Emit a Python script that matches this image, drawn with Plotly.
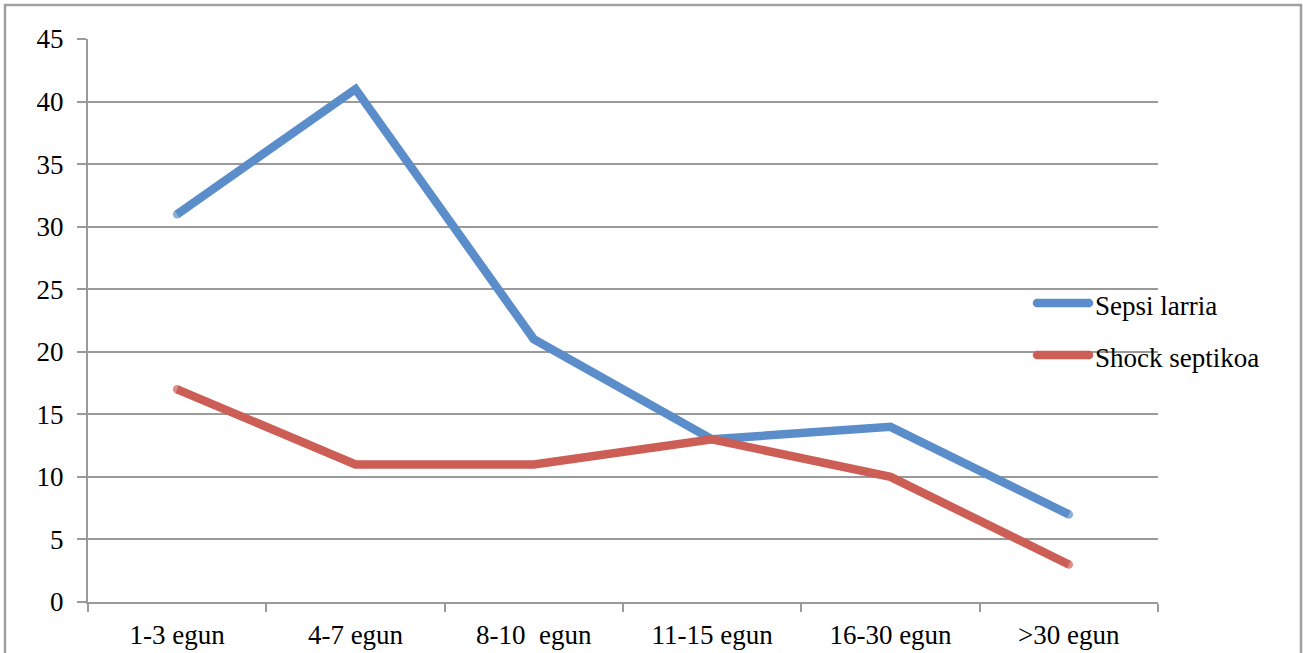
import plotly.graph_objects as go

categories = ["1-3 egun", "4-7 egun", "8-10  egun", "11-15 egun", "16-30 egun", ">30 egun"]
sepsi_larria = [31, 41, 21, 13, 14, 7]
shock_septikoa = [17, 11, 11, 13, 10, 3]
series_names = ["Sepsi larria", "Shock septikoa"]
y_ticks = [0, 5, 10, 15, 20, 25, 30, 35, 40, 45]

BLUE = "#5A8DC9"
RED = "#CC5E56"
GRID = "#9A9A9A"
FONT = "Liberation Serif, Times New Roman, serif"
FSIZE = 27
LW = 8.5

# plot area geometry in pixels (used to place the hand-drawn legend)
L, R, T, B = 88, 145, 39, 51
PW, PH = 1303 - L - R, 653 - T - B


def px_x(x):
    return (x - L) / PW


def px_y(y):
    return (653 - B - y) / PH


fig = go.Figure()
for name, vals, color in [(series_names[0], sepsi_larria, BLUE),
                          (series_names[1], shock_septikoa, RED)]:
    end_sizes = [LW] + [0] * (len(vals) - 2) + [LW]
    fig.add_trace(go.Scatter(x=categories, y=vals, mode="lines+markers", name=name,
                             line=dict(color=color, width=LW),
                             marker=dict(color=color, size=end_sizes, line=dict(width=0)),
                             showlegend=False, hoverinfo="skip"))

# outer frame around the chart area
fig.add_shape(type="rect", xref="paper", yref="paper",
              x0=px_x(5), x1=px_x(1301), y0=px_y(665), y1=px_y(5),
              line=dict(color="#A0A0A0", width=2.5), layer="below")

# legend drawn as line samples with labels
legend_rows = [(series_names[0], BLUE, 303, 306), (series_names[1], RED, 355, 358)]
rx, ry = (LW / 2) / PW, (LW / 2) / PH
for name, color, ly, ty in legend_rows:
    x0, x1 = px_x(1037), px_x(1089)
    fig.add_shape(type="line", xref="paper", yref="paper",
                  x0=x0, x1=x1, y0=px_y(ly), y1=px_y(ly),
                  line=dict(color=color, width=LW))
    for cx in (x0, x1):
        fig.add_shape(type="circle", xref="paper", yref="paper",
                      x0=cx - rx, x1=cx + rx, y0=px_y(ly) - ry, y1=px_y(ly) + ry,
                      fillcolor=color, line=dict(width=0))
    fig.add_annotation(xref="paper", yref="paper", x=px_x(1093), y=px_y(ty),
                       text=name, showarrow=False, xanchor="left", yanchor="middle",
                       font=dict(family=FONT, size=FSIZE, color="#000"))

fig.update_layout(
    width=1303, height=653,
    margin=dict(l=L, r=R, t=T, b=B, autoexpand=False),
    paper_bgcolor="white", plot_bgcolor="white",
    font=dict(family=FONT, size=FSIZE, color="#000"),
    xaxis=dict(type="category", categoryorder="array", categoryarray=categories,
               tickson="boundaries", ticks="outside", ticklen=8, tickwidth=2,
               tickcolor=GRID, showline=True, linecolor=GRID, linewidth=2,
               showgrid=False, range=[-0.5, 5.5], automargin=False,
               tickfont=dict(family=FONT, size=FSIZE, color="#000"), ticklabelstandoff=8),
    yaxis=dict(range=[0, 45], tickvals=y_ticks, ticks="outside", ticklen=9, tickwidth=2,
               tickcolor=GRID, showline=True, linecolor=GRID, linewidth=2,
               showgrid=True, gridcolor=GRID, gridwidth=2, zeroline=False, automargin=False,
               tickfont=dict(family=FONT, size=FSIZE, color="#000"), ticklabelstandoff=8),
)

fig.write_html("out.html")
